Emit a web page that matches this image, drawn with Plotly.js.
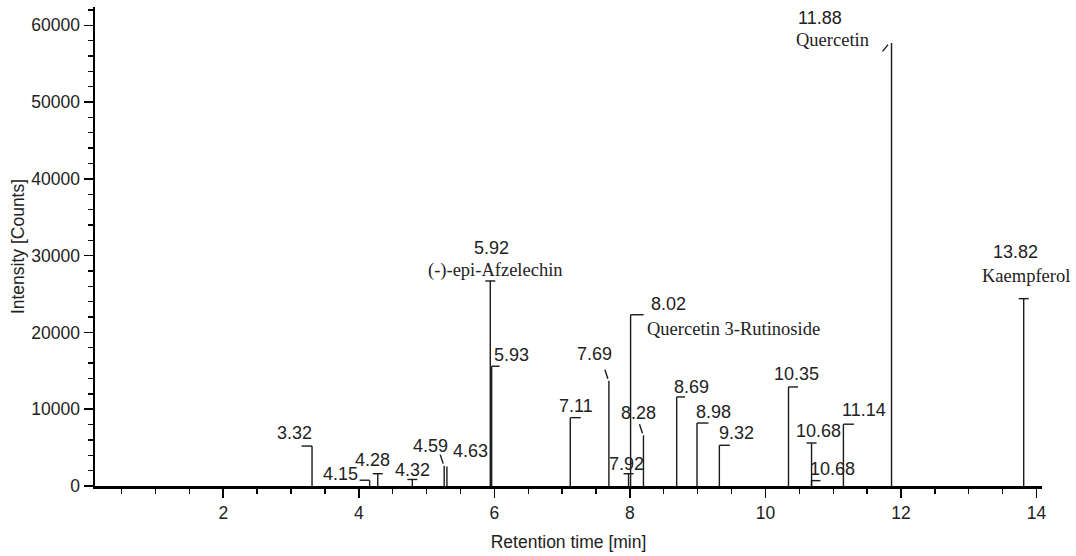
<!DOCTYPE html>
<html><head><meta charset="utf-8">
<script src="https://cdn.plot.ly/plotly-3.0.1.min.js"></script>
<style>html,body{margin:0;padding:0;background:#fff}#chart{width:1076px;height:556px}</style>
</head><body><div id="chart"></div>
<script>
// ---- data ----
const peakRT = [3.31, 4.16, 4.28, 4.79, 5.26, 5.30, 5.94, 5.96, 7.12, 7.69, 7.98, 8.01, 8.20, 8.69, 8.99, 9.32, 10.34, 10.68, 10.68, 11.15, 11.86, 13.81];
const peakIntensity = [5200, 750, 1600, 850, 2650, 2550, 26700, 15600, 8900, 13700, 1600, 22300, 6600, 11600, 8200, 5300, 12900, 5600, 700, 8050, 57700, 24400];
const peakLabels = ['3.32','4.15','4.28','4.32','4.59','4.63','5.92','5.93','7.11','7.69','7.92','8.02','8.28','8.69','8.98','9.32','10.35','10.68','10.68','11.14','11.88','13.82'];
const compoundNames = ['','','','','','','(-)-epi-Afzelechin','','','','','Quercetin 3-Rutinoside','','','','','','','','','Quercetin','Kaempferol'];
const xTickValues = [2, 4, 6, 8, 10, 12, 14];
const yTickValues = [0, 10000, 20000, 30000, 40000, 50000, 60000];

// ---- styling / placement (pixels) ----
const flagStyle = ['L','L','T','T','BS','','T','R','R','BS','T','R','BS','R','R','R','R','T','R','R','FS','T'];
const flagLen   = [10.5,10,5,5,0,0,5,8,10.5,0,5,13,0,8.5,11.5,10.5,9.5,5,9,10.5,0,5];
const labelDX = [-18,-29,-5,0,-14,24,1,20,6,-14,-2,38,-5,15,16,17,8,7,21,21,-72,-8.5];
const labelDY = [-13,-6,-14,-9,-20,-15,-33,-11,-12,-27,-10,-11,-22,-10,-11,-12,-13,-12,-12,-14,-25,-47];
const nameDX = {6: 5, 11: 14, 20: -59, 21: 2};
const nameDY = {6: -10, 11: 14, 20: -3, 21: -23};
const nameAnchor = {6: 'center', 11: 'left', 20: 'center', 21: 'center'};

const sans = 'Liberation Sans, Arial, sans-serif';
const serif = 'Liberation Serif, Times New Roman, serif';
const ink = '#1a1a1a';

const lx = [], ly = [];
peakRT.forEach((rt, i) => { lx.push(rt, rt, null); ly.push(0, peakIntensity[i], null); });

const trace = {
  type: 'scatter', mode: 'lines', x: lx, y: ly,
  line: {color: ink, width: 1.4}, hoverinfo: 'skip', showlegend: false
};

const shapes = [];
peakRT.forEach((rt, i) => {
  const s = flagStyle[i];
  if (!s) return;
  let x0, x1, y0 = 0, y1 = 0;
  const L = flagLen[i];
  if (s === 'L') { x0 = -L; x1 = 0; }
  else if (s === 'R') { x0 = 0; x1 = L; }
  else if (s === 'T') { x0 = -L; x1 = L; }
  else if (s === 'BS') { x0 = -1; y0 = 2; x1 = -4; y1 = 11; }
  else if (s === 'FS') { x0 = -3.5; y0 = -1.7; x1 = -9; y1 = -8.4; }
  shapes.push({
    type: 'line', xref: 'x', yref: 'y',
    xsizemode: 'pixel', ysizemode: 'pixel',
    xanchor: rt, yanchor: peakIntensity[i],
    x0: x0, x1: x1, y0: y0, y1: y1,
    line: {color: ink, width: 1.4}
  });
});

const annotations = [];
peakRT.forEach((rt, i) => {
  annotations.push({
    x: rt, y: peakIntensity[i], xref: 'x', yref: 'y', showarrow: false,
    text: peakLabels[i], xanchor: 'center', yanchor: 'middle',
    xshift: labelDX[i], yshift: -labelDY[i],
    font: {family: sans, size: 18, color: '#222'}
  });
  if (compoundNames[i]) {
    annotations.push({
      x: rt, y: peakIntensity[i], xref: 'x', yref: 'y', showarrow: false,
      text: compoundNames[i], xanchor: nameAnchor[i], yanchor: 'middle',
      xshift: nameDX[i], yshift: -nameDY[i],
      font: {family: serif, size: 18.5, color: '#222'}
    });
  }
});

const tickFont = {family: sans, size: 17.5, color: '#222'};

const layout = {
  width: 1076, height: 556,
  margin: {l: 95, r: 34, t: 7, b: 70},
  paper_bgcolor: '#fff', plot_bgcolor: '#fff',
  showlegend: false,
  xaxis: {
    range: [0.108, 14.08], tickmode: 'array', tickvals: xTickValues,
    ticktext: xTickValues.map(String),
    ticks: 'outside', ticklen: 9, tickwidth: 1.5, tickcolor: '#000',
    minor: {dtick: 0.5, tick0: 0, ticks: 'outside', ticklen: 5, tickwidth: 1.3, tickcolor: '#000', showgrid: false},
    showline: true, linewidth: 2.5, linecolor: '#000',
    showgrid: false, zeroline: false, tickfont: tickFont,
    title: {text: 'Retention time [min]', font: tickFont, standoff: 14}
  },
  yaxis: {
    range: [0, 62380], tickmode: 'array', tickvals: yTickValues,
    ticktext: yTickValues.map(String),
    ticks: 'outside', ticklen: 9, tickwidth: 1.5, tickcolor: '#000',
    minor: {dtick: 2000, tick0: 0, ticks: 'outside', ticklen: 5, tickwidth: 1.3, tickcolor: '#000', showgrid: false},
    showline: true, linewidth: 2.5, linecolor: '#000',
    showgrid: false, zeroline: false, tickfont: tickFont,
    title: {text: 'Intensity [Counts]', font: tickFont, standoff: 2}
  },
  shapes: shapes,
  annotations: annotations
};

Plotly.newPlot('chart', [trace], layout, {displayModeBar: false, staticPlot: true});
</script>
</body></html>
